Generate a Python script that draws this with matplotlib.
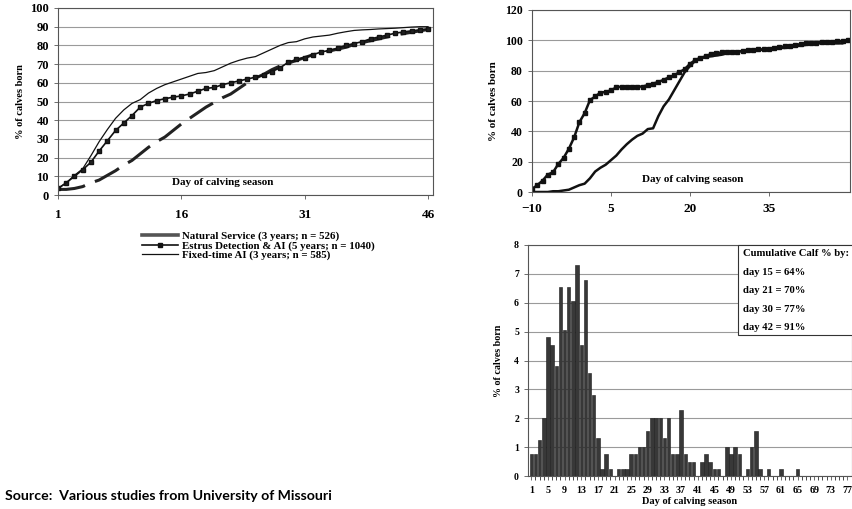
import matplotlib
matplotlib.use("Agg")
import matplotlib.pyplot as plt
from matplotlib.patches import Rectangle
from matplotlib.lines import Line2D

plt.rcParams['font.family'] = ['Liberation Serif', 'DejaVu Serif']
plt.rcParams['font.weight'] = 'bold'

# --- chart 1: cumulative % by day, three breeding systems
days1 = list(range(1, 47))
natural_service = [3, 3, 3.5, 4.5, 6.5, 8, 10.5, 13, 16, 18.5, 22, 25.5, 28.5, 31, 34.5, 38,
                   41, 44, 47, 49.5, 52, 54, 57, 60, 62.5, 64.5, 67, 69, 70.5, 72, 73.5, 75,
                   76, 77, 78, 79, 80.5, 81.5, 82.5, 83.5, 84.5, 85.5, 86.3, 87, 87.8, 88.5]
estrus_ai = [3.5, 6.5, 10, 13.5, 17.5, 23.5, 29, 34.5, 38.5, 42.5, 47, 49, 50.5, 51.5, 52.3,
             53, 54, 55.5, 57, 57.5, 59, 60, 61, 62, 63, 64, 66, 68, 71, 72.5, 73.5, 75, 76.5,
             77.3, 78.5, 80, 81, 82, 83.5, 84.5, 85.5, 86.5, 87.2, 87.8, 88.3, 88.7]
fixed_ai = [3.5, 6.5, 10.5, 14, 21, 28.5, 35, 41, 45.5, 49, 51, 54.5, 57, 59, 60.5, 62, 63.5,
            65, 65.5, 66.5, 68.5, 70.5, 72, 73.2, 74, 76, 78, 80, 81.5, 82, 83.5, 84.5, 85,
            85.5, 86.5, 87.3, 88, 88.3, 88.5, 88.8, 89, 89.2, 89.5, 89.8, 90, 90]
legend_labels = ["Natural Service (3 years; n = 526)",
                 "Estrus Detection & AI (5 years; n = 1040)",
                 "Fixed-time AI (3 years; n = 585)"]

# --- chart 2: two cumulative curves, day -10 to 50
days2 = list(range(-10, 51))
squares2 = [2, 4.5, 7.5, 11.5, 13, 18.5, 22.5, 28.5, 36, 46, 52, 60.5, 63, 65.5, 66, 67, 69,
            69.5, 69.5, 69.5, 69.5, 69.5, 70.5, 71.5, 72.5, 74, 75.5, 77, 79, 81, 84.5, 87,
            88.5, 89.5, 91, 91.5, 92, 92, 92.5, 92.5, 93, 93.5, 93.5, 94, 94, 94.5, 95, 95.5,
            96, 96.5, 97, 97.5, 98, 98, 98.5, 99, 99, 99, 99.5, 99.5, 100]
solid2 = [0, 0, 0, 0, 0.5, 0.5, 1, 1.5, 3, 4.5, 5.5, 9, 13.5, 16, 18, 21, 24, 28, 31.5, 34.5,
          37, 38.5, 41.5, 42, 50, 56.5, 61, 67, 73, 79, 83, 86.5, 88, 89, 89.5, 90, 90.5, 91.5,
          92, 92.5, 93, 93.5, 93.5, 93.5, 94, 94, 94.5, 95, 95, 95.5, 96, 96.5, 97, 97.5, 98,
          98, 98, 98, 98, 98, 100.5]

# --- chart 3: daily % of calves born
days3 = list(range(1, 66))
pct3 = [0.75, 0.75, 1.25, 2.0, 4.8, 4.55, 3.8, 6.55, 5.05, 6.55, 6.05, 7.3, 4.55, 6.8, 3.55,
        2.8, 1.3, 0.25, 0.75, 0.25, 0, 0.25, 0.25, 0.25, 0.75, 0.75, 1.0, 1.0, 1.55, 2.0, 2.0,
        2.0, 1.3, 2.0, 0.75, 0.75, 2.3, 0.75, 0.5, 0.5, 0, 0.5, 0.75, 0.5, 0.25, 0.25, 0, 1.0,
        0.75, 1.0, 0.75, 0, 0.25, 1.0, 1.55, 0.25, 0, 0.25, 0, 0, 0.25, 0, 0, 0, 0.25]
box_lines = ["Cumulative Calf % by:", "day 15 = 64%", "day 21 = 70%", "day 30 = 77%",
             "day 42 = 91%"]

W, H = 853, 509
fig = plt.figure(figsize=(W / 100, H / 100), dpi=100)
grid_c = '#9a9a9a'
fs = 7.5


def frame(ax, xsize, ysize):
    for s in ax.spines.values():
        s.set_color('#555555')
        s.set_linewidth(0.8)
    ax.tick_params(length=3, width=0.6, color='#555555')
    ax.tick_params(axis='x', labelsize=xsize)
    ax.tick_params(axis='y', labelsize=ysize)
    for lab in ax.get_xticklabels() + ax.get_yticklabels():
        lab.set_fontweight('bold')


# chart 1
ax1 = fig.add_axes([58 / W, 1 - 195 / H, 375 / W, 187 / H])
ax1.plot(days1, natural_service, color='#222222', lw=2.2, dashes=(9, 3.5))
ax1.plot(days1, estrus_ai, color='#111111', lw=1.2, marker='s', ms=3.2,
         mfc='#222222', mec='#111111')
ax1.plot(days1, fixed_ai, color='#111111', lw=0.9)
ax1.set_xlim(1, 46.6)
ax1.set_ylim(0, 100)
ax1.set_xticks([1, 16, 31, 46])
ax1.set_yticks(range(0, 101, 10))
ax1.grid(axis='y', color=grid_c, lw=0.8)
ax1.set_axisbelow(True)
ax1.set_ylabel("% of calves born", fontsize=fs, fontweight='bold', labelpad=4)
ax1.tick_params(axis='x', pad=7)
ax1.text(21, 6.5, "Day of calving season", ha='center', va='center', fontsize=8,
         fontweight='bold')
frame(ax1, 9.5, 9)

handles = [Line2D([], [], color='#555555', lw=2.6),
           Line2D([], [], color='#111111', lw=1.2, marker='s', ms=3.2),
           Line2D([], [], color='#111111', lw=0.9)]
fig.legend(handles, legend_labels, loc='upper left', bbox_to_anchor=(142 / W, 1 - 231 / H),
           frameon=False, handlelength=3.3, handletextpad=0.4, labelspacing=0.0,
           borderaxespad=0, borderpad=0, prop={'weight': 'bold', 'size': 7.8})

# chart 2
ax2 = fig.add_axes([532 / W, 1 - 192 / H, 318 / W, 182 / H])
ax2.plot(days2, squares2, color='#111111', lw=1.8, marker='s', ms=2.8, mfc='#111111')
ax2.plot(days2, solid2, color='#111111', lw=1.8)
ax2.set_xlim(-10, 50.4)
ax2.set_ylim(0, 120)
ax2.set_xticks([-10, 5, 20, 35])
ax2.set_yticks(range(0, 121, 20))
ax2.grid(axis='y', color=grid_c, lw=0.8)
ax2.set_axisbelow(True)
ax2.set_ylabel("% of calves born", fontsize=8, fontweight='bold', labelpad=5)
ax2.tick_params(axis='x', pad=5)
ax2.text(20.5, 8, "Day of calving season", ha='center', va='center', fontsize=8,
         fontweight='bold')
frame(ax2, 9.5, 8.5)

# chart 3
ax3 = fig.add_axes([528 / W, 1 - 476 / H, 324 / W, 231 / H])
ax3.bar(days3, pct3, width=0.82, color='#383838', edgecolor='#1a1a1a', lw=0.4)
ax3.set_xlim(0.2, 78.1)
ax3.set_ylim(0, 8)
ax3.set_xticks(range(1, 78, 4))
ax3.set_xticks(range(1, 78), minor=True)
ax3.set_yticks(range(0, 9))
ax3.grid(axis='y', color=grid_c, lw=0.8)
ax3.set_axisbelow(True)
ax3.tick_params(axis='x', which='both', length=3, width=0.5, pad=4)
ax3.set_ylabel("% of calves born", fontsize=7.2, fontweight='bold', labelpad=8)
ax3.set_xlabel("Day of calving season", fontsize=7.5, fontweight='bold', labelpad=2)
frame(ax3, 7.2, 7)

bx0 = (738 - 528) / 324
by0 = (476 - 335) / 231
ax3.add_patch(Rectangle((bx0, by0), 1.2, 1 - by0, transform=ax3.transAxes,
                        facecolor='white', edgecolor='#333333', lw=0.8, clip_on=False,
                        zorder=5))
for i, t in enumerate(box_lines):
    ty = 254 + i * 18.4
    ax3.text((743 - 528) / 324, (476 - ty) / 231, t, transform=ax3.transAxes,
             ha='left', va='center', fontsize=7.7, fontweight='bold', zorder=6)

fig.text(5 / W, 1 - 496 / H, "Source:  Various studies from University of Missouri",
         fontsize=10.2, fontweight='bold', family=['Lato', 'DejaVu Sans'],
         ha='left', va='center')

fig.savefig('out.png', dpi=100)
